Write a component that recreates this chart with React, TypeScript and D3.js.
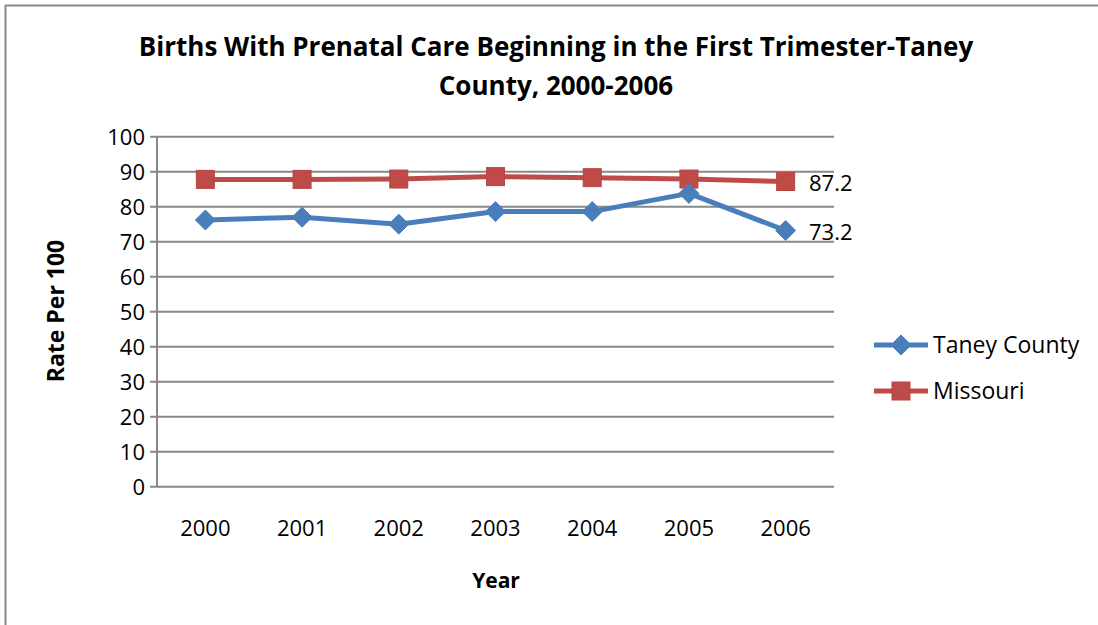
import React from "react";
import * as d3 from "d3";

const years = ["2000", "2001", "2002", "2003", "2004", "2005", "2006"];
const taney = [76.2, 77.0, 75.0, 78.6, 78.6, 83.8, 73.2];
const missouri = [87.8, 87.8, 87.9, 88.6, 88.3, 87.9, 87.2];
const yTicks = [0, 10, 20, 30, 40, 50, 60, 70, 80, 90, 100];
const seriesNames = ["Taney County", "Missouri"];
const lastLabels = ["73.2", "87.2"];

const W = 1098, H = 625;
const FONT = "'Open Sans', sans-serif";

export default function App() {
  const left = 157, right = 834, top = 136.7, bottom = 486.7;
  const x = d3.scaleBand<string>().domain(years).range([left, right]);
  const y = d3.scaleLinear().domain([0, 100]).range([bottom, top]);
  const cx = (yr: string) => (x(yr) as number) + x.bandwidth() / 2;
  const line = d3.line<number>().x((_, i) => cx(years[i])).y((v) => y(v));
  const blue = "#4A7EBB", red = "#BE4B48";
  const grid = "#888888";

  const diamond = (px: number, py: number, r: number, key: string) => (
    <path key={key} d={`M${px},${py - r}L${px + r},${py}L${px},${py + r}L${px - r},${py}Z`} fill={blue} stroke={blue} strokeWidth={1} />
  );
  const square = (px: number, py: number, s: number, key: string) => (
    <rect key={key} x={px - s / 2} y={py - s / 2} width={s} height={s} fill={red} stroke="#b84541" strokeWidth={1} />
  );

  return (
    <svg width={W} height={H} style={{ position: "absolute", left: 0, top: 0, background: "#fff" }} fontFamily={FONT}>
      <rect x={0} y={0} width={W} height={H} fill="#fff" />
      <line x1={5} y1={5.5} x2={W} y2={5.5} stroke="#8a8a8a" strokeWidth={2} />
      <line x1={5.5} y1={5} x2={5.5} y2={H} stroke="#8a8a8a" strokeWidth={2} />

      <text x={556} y={56} textAnchor="middle" fontSize={26} fontWeight="bold" fill="#000">
        Births With Prenatal Care Beginning in the First Trimester-Taney
      </text>
      <text x={556} y={95} textAnchor="middle" fontSize={26} fontWeight="bold" fill="#000">
        County, 2000-2006
      </text>

      {yTicks.map((t) => (
        <g key={t}>
          <line x1={150} x2={right} y1={y(t)} y2={y(t)} stroke={grid} strokeWidth={2} />
          <text x={145} y={y(t) + 8} textAnchor="end" fontSize={22} fill="#000">{t}</text>
        </g>
      ))}
      <line x1={left} x2={left} y1={top} y2={bottom} stroke={grid} strokeWidth={2} />

      {years.map((yr) => (
        <text key={yr} x={cx(yr)} y={536} textAnchor="middle" fontSize={22} fill="#000">{yr}</text>
      ))}

      <text x={496} y={588} textAnchor="middle" fontSize={21} fontWeight="bold" fill="#000">Year</text>
      <text transform={`translate(64,311) rotate(-90)`} textAnchor="middle" fontSize={23} fontWeight="bold" fill="#000">Rate Per 100</text>

      <path d={line(missouri) as string} fill="none" stroke={red} strokeWidth={5} strokeLinejoin="round" />
      <path d={line(taney) as string} fill="none" stroke={blue} strokeWidth={5} strokeLinejoin="round" />
      {missouri.map((v, i) => square(cx(years[i]), y(v), 18, "m" + i))}
      {taney.map((v, i) => diamond(cx(years[i]), y(v), 10, "t" + i))}

      <text x={809} y={y(missouri[6]) + 9} fontSize={22} fill="#000">{lastLabels[1]}</text>
      <text x={809} y={y(taney[6]) + 9} fontSize={22} fill="#000">{lastLabels[0]}</text>

      <g>
        <line x1={874} x2={928} y1={345} y2={345} stroke={blue} strokeWidth={5} />
        {diamond(901, 345, 10, "ld")}
        <text x={933} y={353} fontSize={23} fill="#000">{seriesNames[0]}</text>
        <line x1={874} x2={928} y1={391} y2={391} stroke={red} strokeWidth={5} />
        {square(901, 391, 18, "ls")}
        <text x={933} y={399} fontSize={23} fill="#000">{seriesNames[1]}</text>
      </g>
    </svg>
  );
}
